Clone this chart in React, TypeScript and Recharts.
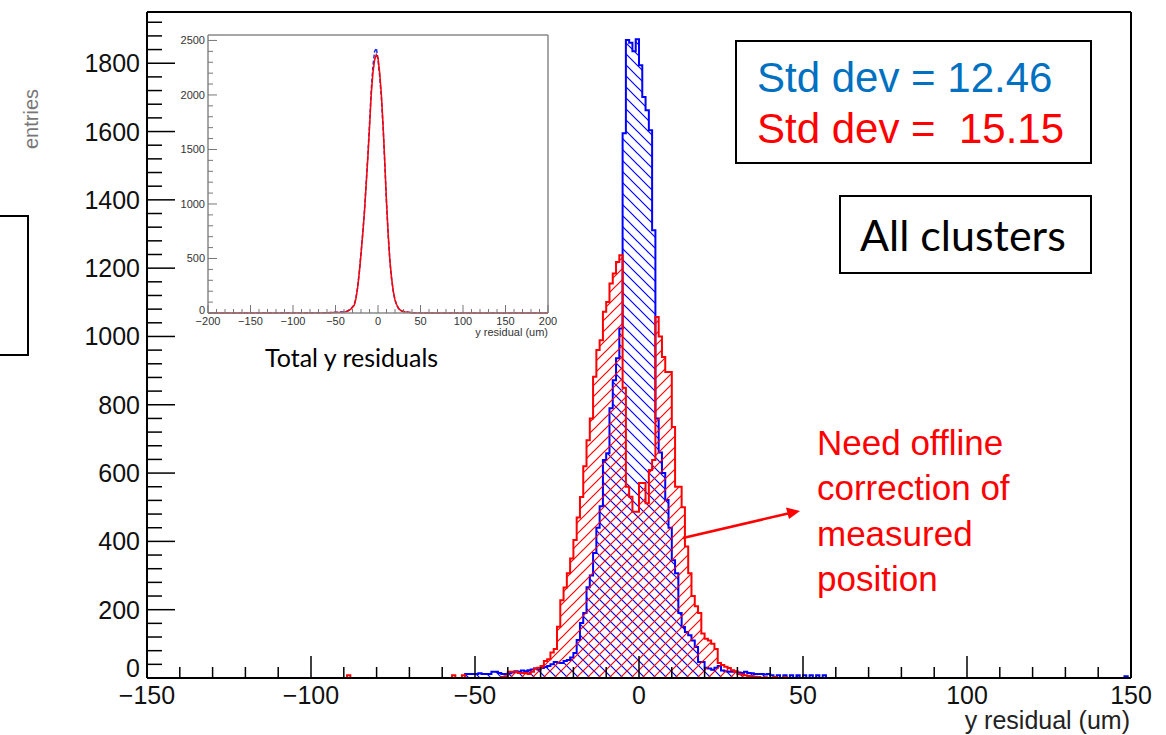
import React from 'react'
import { ComposedChart, Area, Line, XAxis, YAxis, ReferenceLine } from 'recharts'

// main histogram: 1 um bins, first bin starts at FIRST_BIN
const FIRST_BIN = -60
const BLUE_COUNTS = [
  0, 0, 0, 0, 0, 0, 0, 12, 12, 12,
  12, 14, 12, 12, 12, 18, 18, 15, 12, 12,
  14, 16, 20, 18, 22, 20, 23, 25, 28, 25,
  29, 32, 35, 40, 47, 45, 44, 50, 53, 60,
  73, 111, 161, 190, 266, 300, 366, 440, 503, 638,
  658, 790, 872, 936, 1023, 1595, 1868, 1860, 1835, 1870,
  1794, 1701, 1662, 1604, 1311, 760, 660, 600, 521, 440,
  345, 307, 190, 149, 135, 125, 110, 91, 47, 47,
  30, 28, 24, 30, 35, 22, 20, 18, 18, 18,
  16, 15, 18, 15, 14, 12, 12, 12, 10, 12,
  8, 0, 8, 0, 8, 0, 8, 0, 8, 0,
  8, 0, 8, 0, 8, 0, 8, 0, 0, 0,
]
const RED_COUNTS = [
  0, 0, 0, 8, 0, 0, 8, 0, 0, 0,
  0, 0, 0, 0, 0, 0, 0, 0, 3, 5,
  18, 18, 18, 15, 15, 15, 12, 18, 28, 30,
  35, 50, 55, 75, 85, 150, 228, 265, 307, 350,
  404, 470, 530, 620, 696, 760, 882, 960, 989, 1072,
  1101, 1155, 1184, 1218, 1238, 850, 560, 531, 487, 487,
  571, 571, 512, 609, 638, 1057, 1000, 940, 896, 896,
  735, 560, 560, 500, 385, 307, 240, 210, 190, 130,
  115, 110, 100, 85, 44, 38, 33, 29, 23, 20,
  12, 10, 8, 6, 5, 4, 3, 0, 2, 0,
  0, 3, 0, 0, 2, 0, 0, 0, 0, 0,
  0, 0, 0, 0, 0, 0, 0, 0, 0, 0,
]
// isolated bins far in the tails: [bin start, count]
const BLUE_STRAY = [[148, 5]]
const RED_STRAY = [[-89, 8]]

const X_MAJOR = [-150, -100, -50, 0, 50, 100, 150]
const Y_MAJOR = [0, 200, 400, 600, 800, 1000, 1200, 1400, 1600, 1800]

// inset "Total y residuals"
const INSET_X = [-200, -60, -40, -36, -32, -28, -26, -24, -22, -20, -18, -16, -14, -12, -10, -8, -6, -4, -2, 0, 2, 4, 6, 8, 10, 12, 14, 16, 18, 20, 22, 24, 26, 28, 32, 36, 40, 60, 200]
const INSET_RED = [0, 2, 8, 15, 35, 70, 130, 230, 370, 540, 720, 920, 1170, 1420, 1700, 2000, 2200, 2320, 2370, 2340, 2200, 2000, 1720, 1380, 1020, 720, 480, 320, 200, 120, 75, 45, 28, 18, 10, 6, 3, 1, 0]
const INSET_BLUE = [0, 3, 10, 18, 38, 75, 135, 235, 375, 545, 730, 930, 1180, 1440, 1730, 2040, 2260, 2400, 2430, 2330, 2170, 1970, 1700, 1370, 1010, 710, 470, 310, 195, 118, 73, 44, 28, 18, 10, 6, 3, 1, 0]
const INSET_X_MAJOR = [-200, -150, -100, -50, 0, 50, 100, 150, 200]
const INSET_Y_MAJOR = [0, 500, 1000, 1500, 2000, 2500]

const ROOT_FONT = '"Liberation Sans", Arial, Helvetica, sans-serif'
const SLIDE_FONT = '"Liberation Sans", Arial, sans-serif'

const binMap = (counts: number[], stray: number[][]) => {
  const m = new Map<number, number>()
  counts.forEach((c, i) => m.set(FIRST_BIN + i, c))
  stray.forEach(([b, c]) => m.set(b, c))
  return m
}
const blueMap = binMap(BLUE_COUNTS, BLUE_STRAY)
const redMap = binMap(RED_COUNTS, RED_STRAY)
const histRows: { x: number; blue: number; red: number }[] = []
for (let x = -150; x <= 150; x++) {
  histRows.push({ x, blue: blueMap.get(x) ?? 0, red: redMap.get(x) ?? 0 })
}
const insetRows = INSET_X.map((x, i) => ({ x, blue: INSET_BLUE[i], red: INSET_RED[i] }))

const xTicks: number[] = []
for (let v = -150; v <= 150; v += 10) xTicks.push(v)
const yTicks: number[] = []
for (let v = 0; v <= 1920; v += 40) yTicks.push(v)
const insetXTicks: number[] = []
for (let v = -200; v <= 200; v += 10) insetXTicks.push(v)
const insetYTicks: number[] = []
for (let v = 0; v <= 2500; v += 100) insetYTicks.push(v)

const fmt = (v: number) => (v < 0 ? `\u2212${-v}` : `${v}`)

// main plot frame (px inside the chart svg)
const PL = 147
const PB = 678

const MainXTick = (p: any) => {
  const v = p.payload.value
  const major = X_MAJOR.includes(v)
  return (
    <g>
      <line x1={p.x} x2={p.x} y1={PB} y2={PB - (major ? 22 : 11)} stroke="#000" strokeWidth={1.5} />
      {major && (
        <text x={p.x} y={PB + 26} textAnchor="middle" fontSize={25} fontFamily={ROOT_FONT} fill="#111">
          {fmt(v)}
        </text>
      )}
    </g>
  )
}

const MainYTick = (p: any) => {
  const v = p.payload.value
  const major = Y_MAJOR.includes(v)
  return (
    <g>
      <line x1={PL} x2={PL + (major ? 28 : 15)} y1={p.y} y2={p.y} stroke="#000" strokeWidth={1.5} />
      {major && (
        <text x={PL - 7} y={p.y + 9 - (v === 0 ? 10 : 0)} textAnchor="end" fontSize={25} fontFamily={ROOT_FONT} fill="#111">
          {v}
        </text>
      )}
    </g>
  )
}

// inset frame (px inside the inset svg)
const IL = 58
const IB = 293

const InsetXTick = (p: any) => {
  const v = p.payload.value
  const major = INSET_X_MAJOR.includes(v)
  return (
    <g>
      <line x1={p.x} x2={p.x} y1={IB} y2={IB - (major ? 8 : 4)} stroke="#777" strokeWidth={1} />
      {major && (
        <text x={p.x} y={IB + 12} textAnchor="middle" fontSize={11} fontFamily={ROOT_FONT} fill="#333">
          {fmt(v)}
        </text>
      )}
    </g>
  )
}

const InsetYTick = (p: any) => {
  const v = p.payload.value
  const major = INSET_Y_MAJOR.includes(v)
  return (
    <g>
      <line x1={IL} x2={IL + (major ? 9 : 5)} y1={p.y} y2={p.y} stroke="#777" strokeWidth={1} />
      {major && (
        <text x={IL - 3} y={p.y + 4 - (v === 0 ? 3 : 0)} textAnchor="end" fontSize={11} fontFamily={ROOT_FONT} fill="#333">
          {v}
        </text>
      )}
    </g>
  )
}

const Inset = () => (
  <div style={{ position: 'absolute', left: 150, top: 20 }}>
    <ComposedChart width={410} height={320} data={insetRows} margin={{ top: 15, right: 12, bottom: 7, left: 18 }}>
      <XAxis
        dataKey="x"
        type="number"
        domain={[-200, 200]}
        ticks={insetXTicks}
        interval={0}
        tick={InsetXTick}
        tickLine={false}
        axisLine={{ stroke: '#888', strokeWidth: 1.5 }}
        height={20}
      />
      <YAxis
        type="number"
        domain={[0, 2550]}
        ticks={insetYTicks}
        interval={0}
        tick={InsetYTick}
        tickLine={false}
        axisLine={{ stroke: '#888', strokeWidth: 1.5 }}
        width={40}
      />
      <ReferenceLine y={2550} stroke="#888" strokeWidth={1.5} />
      <ReferenceLine x={200} stroke="#888" strokeWidth={1.5} />
      <Line dataKey="blue" type="linear" stroke="#2233dd" strokeWidth={1.5} strokeDasharray="4 2" dot={false} activeDot={false} isAnimationActive={false} />
      <Line dataKey="red" type="linear" stroke="#ff0000" strokeWidth={1.5} dot={false} activeDot={false} isAnimationActive={false} />
    </ComposedChart>
    <div
      style={{
        position: 'absolute',
        left: 0,
        top: 306,
        width: 398,
        textAlign: 'right',
        fontFamily: ROOT_FONT,
        fontSize: 11,
        color: '#333',
      }}
    >
      y residual (um)
    </div>
  </div>
)

const Annotations = () => (
  <svg width={1166} height={735} style={{ position: 'absolute', left: 0, top: 0, pointerEvents: 'none' }}>
    <text
      x={33}
      y={119}
      transform="rotate(-90 33 119)"
      textAnchor="middle"
      dominantBaseline="middle"
      fontSize={20}
      fontFamily={ROOT_FONT}
      fill="#777"
    >
      entries
    </text>
    <rect x={-5} y={216} width={33} height={139} fill="none" stroke="#000" strokeWidth={2} />

    <rect x={736} y={41} width={355} height={122} fill="#fff" stroke="#000" strokeWidth={2} />
    <text x={757} y={92} fontSize={42} fontFamily={SLIDE_FONT} fill="#0070C0">
      Std dev = 12.46
    </text>
    <text x={757} y={143} fontSize={42} fontFamily={SLIDE_FONT} fill="#ff0000" style={{ whiteSpace: 'pre' }}>
      {'Std dev =  15.15'}
    </text>

    <rect x={840} y={196} width={251} height={77} fill="#fff" stroke="#000" strokeWidth={2} />
    <text x={860} y={251} fontSize={43} fontFamily="Lato, sans-serif" fill="#000">
      All clusters
    </text>

    <text x={265} y={367} fontSize={25} fontFamily="Lato, sans-serif" fill="#000">
      Total y residuals
    </text>

    {['Need offline', 'correction of', 'measured', 'position'].map((s, i) => (
      <text key={s} x={817} y={455 + i * 45.3} fontSize={35} fontFamily={SLIDE_FONT} fill="#ff0000">
        {s}
      </text>
    ))}
    <line x1={683} y1={538} x2={788} y2={513.5} stroke="#ff0000" strokeWidth={2.5} />
    <polygon points="800,511 786,507.5 789,519" fill="#ff0000" />

    <text x={1130} y={729} textAnchor="end" fontSize={25} fontFamily={ROOT_FONT} fill="#222">
      y residual (um)
    </text>
  </svg>
)

export default function App() {
  return (
    <div style={{ position: 'absolute', left: 0, top: 0, width: 1166, height: 735, background: '#fff', overflow: 'hidden' }}>
      <ComposedChart width={1166} height={735} data={histRows} margin={{ top: 12, right: 35, bottom: 17, left: 87 }}>
        <defs>
          <pattern id="hatchRed" patternUnits="userSpaceOnUse" width="11" height="11">
            <path d="M-1,1 L1,-1 M0,11 L11,0 M10,12 L12,10" stroke="#ff0000" strokeWidth="1.2" />
          </pattern>
          <pattern id="hatchBlue" patternUnits="userSpaceOnUse" width="11" height="11">
            <path d="M-1,10 L1,12 M0,0 L11,11 M10,-1 L12,1" stroke="#0000ff" strokeWidth="1.2" />
          </pattern>
        </defs>
        <XAxis
          dataKey="x"
          type="number"
          domain={[-150, 150]}
          ticks={xTicks}
          interval={0}
          tick={MainXTick}
          tickLine={false}
          axisLine={{ stroke: '#000', strokeWidth: 2 }}
          height={40}
        />
        <YAxis
          type="number"
          domain={[0, 1950]}
          ticks={yTicks}
          interval={0}
          tick={MainYTick}
          tickLine={false}
          axisLine={{ stroke: '#000', strokeWidth: 2 }}
          width={60}
        />
        <ReferenceLine y={1950} stroke="#000" strokeWidth={2} />
        <ReferenceLine x={150} stroke="#000" strokeWidth={2} />
        <Area
          dataKey="blue"
          type="stepAfter"
          stroke="#0000ff"
          strokeWidth={2}
          fill="url(#hatchBlue)"
          fillOpacity={1}
          dot={false}
          activeDot={false}
          isAnimationActive={false}
        />
        <Area
          dataKey="red"
          type="stepAfter"
          stroke="#ff0000"
          strokeWidth={2}
          fill="url(#hatchRed)"
          fillOpacity={1}
          dot={false}
          activeDot={false}
          isAnimationActive={false}
        />
      </ComposedChart>
      <Inset />
      <Annotations />
    </div>
  )
}
